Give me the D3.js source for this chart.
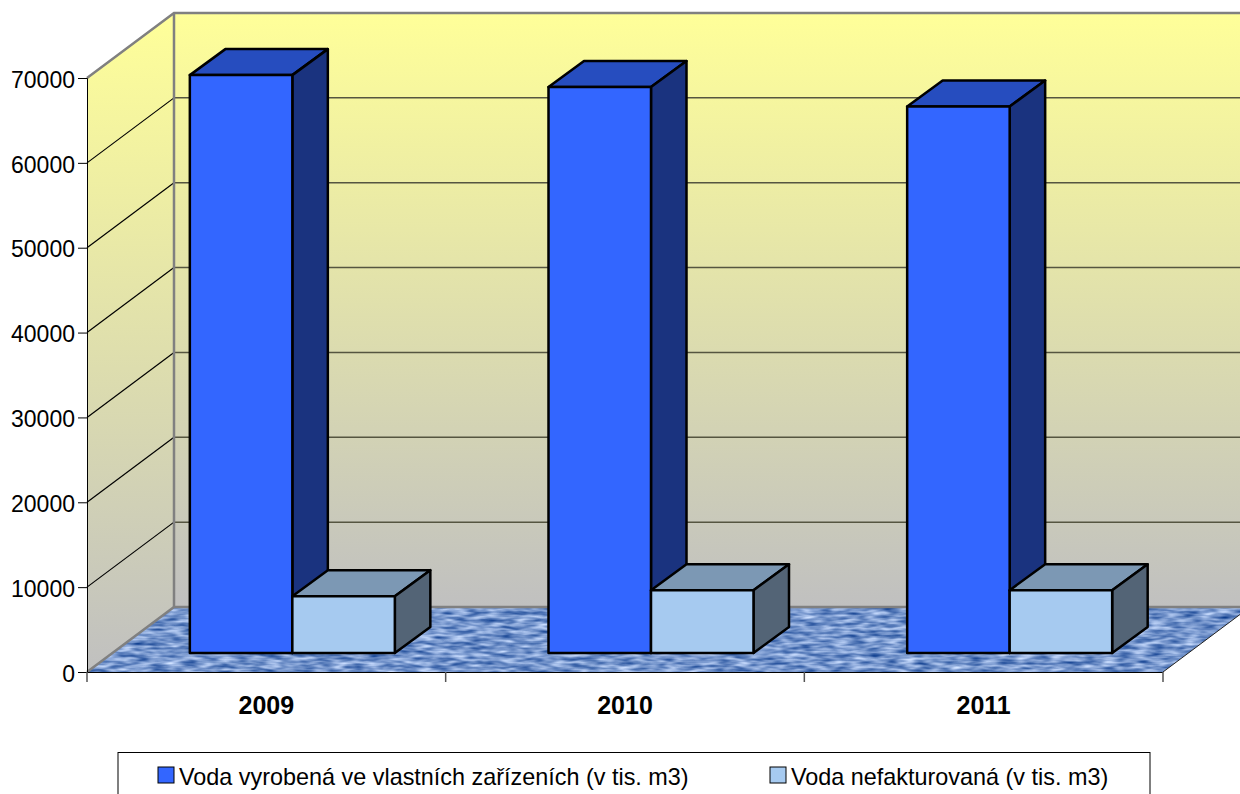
<!DOCTYPE html>
<html>
<head>
<meta charset="utf-8">
<script src="https://cdnjs.cloudflare.com/ajax/libs/d3/7.8.5/d3.min.js"></script>
<style>
html, body { margin: 0; padding: 0; background: #fff; overflow: hidden; }
text { font-family: "Liberation Sans", Arial, sans-serif; fill: #000; }
</style>
</head>
<body>
<svg id="chart" width="1240" height="794"></svg>
<script>
const years = ["2009", "2010", "2011"];
const seriesNames = ["Voda vyrobená ve vlastních zařízeních (v tis. m3)", "Voda nefakturovaná (v tis. m3)"];
const vyrobena = [68100, 66700, 64400];
const nefakturovana = [6700, 7400, 7400];
const yTicks = [0, 10000, 20000, 30000, 40000, 50000, 60000, 70000];

const frontColors = ["#3366ff", "#a6caf0"];
const topColors = ["#264dbf", "#7c98b4"];
const sideColors = ["#1a337f", "#536476"];

const svg = d3.select("#chart");

const x = d3.scaleBand().domain(years).range([87, 1163]);
const y = d3.scaleLinear().domain([0, 70000]).range([672, 78]);

// hloubka grafu (posun zadni steny)
const depthX = 87, depthY = -65;
const barDepthX = 35.5, barDepthY = -26;
const barShiftX = 26, barShiftY = -19;
const barW = 102.5;

const poly = pts => pts.map(p => p.join(",")).join(" ");

const defs = svg.append("defs");
const grad = defs.append("linearGradient").attr("id", "wall")
    .attr("x1", 0).attr("y1", 0).attr("x2", 0).attr("y2", 1);
grad.append("stop").attr("offset", "0%").attr("stop-color", "#ffff99");
grad.append("stop").attr("offset", "100%").attr("stop-color", "#c0c0c0");

const noise = defs.append("filter").attr("id", "water")
    .attr("x", 0).attr("y", 0).attr("width", 1).attr("height", 1)
    .attr("color-interpolation-filters", "sRGB");
noise.append("feTurbulence").attr("type", "fractalNoise")
    .attr("baseFrequency", "0.06 0.26").attr("numOctaves", 2).attr("seed", 7);
noise.append("feColorMatrix").attr("type", "matrix")
    .attr("values", "1.0 0 0 0 -0.04  0.85 0 0 0 0.16  0.6 0 0 0 0.5  0 0 0 0 1");

const x0 = x.range()[0], x1 = x.range()[1];
const yBottom = y(0), yTop = y(70000);

defs.append("clipPath").attr("id", "floorClip").append("polygon")
    .attr("points", poly([[x0, yBottom], [x1, yBottom], [x1 + depthX, yBottom + depthY], [x0 + depthX, yBottom + depthY]]));

// zadni stena a bocni stena
svg.append("polygon")
    .attr("points", poly([[x0 + depthX, yTop + depthY], [x1 + depthX, yTop + depthY], [x1 + depthX, yBottom + depthY], [x0 + depthX, yBottom + depthY]]))
    .attr("fill", "url(#wall)");
svg.append("polygon")
    .attr("points", poly([[x0, yTop], [x0 + depthX, yTop + depthY], [x0 + depthX, yBottom + depthY], [x0, yBottom]]))
    .attr("fill", "url(#wall)");

// podlaha
svg.append("g").attr("clip-path", "url(#floorClip)")
    .append("rect")
    .attr("x", x0).attr("y", yBottom + depthY)
    .attr("width", x1 - x0 + depthX).attr("height", -depthY)
    .attr("filter", "url(#water)");

// mrizka
const grid = svg.append("g");
yTicks.slice(1, -1).forEach(t => {
    grid.append("line")
        .attr("x1", x0).attr("y1", y(t))
        .attr("x2", x0 + depthX).attr("y2", y(t) + depthY)
        .attr("stroke", "#000").attr("stroke-width", 1.2);
    grid.append("line")
        .attr("x1", x0 + depthX).attr("y1", y(t) + depthY)
        .attr("x2", x1 + depthX).attr("y2", y(t) + depthY)
        .attr("stroke", "#555540").attr("stroke-width", 1.5);
});

// okraje sten
svg.append("polyline")
    .attr("points", poly([[x0, yTop], [x0 + depthX, yTop + depthY], [x1 + depthX, yTop + depthY]]))
    .attr("fill", "none").attr("stroke", "#808080").attr("stroke-width", 2.5);
svg.append("line")
    .attr("x1", x0 + depthX).attr("y1", yTop + depthY)
    .attr("x2", x0 + depthX).attr("y2", yBottom + depthY)
    .attr("stroke", "#808080").attr("stroke-width", 2.5);
svg.append("polyline")
    .attr("points", poly([[x0, yBottom], [x0 + depthX, yBottom + depthY], [x1 + depthX, yBottom + depthY]]))
    .attr("fill", "none").attr("stroke", "#808080").attr("stroke-width", 2.5);
svg.append("line")
    .attr("x1", x1).attr("y1", yBottom)
    .attr("x2", x1 + depthX).attr("y2", yBottom + depthY)
    .attr("stroke", "#222").attr("stroke-width", 1);

// sloupce
const gap = (x.bandwidth() - 2 * barW) / 2;
const bars = years.flatMap((yr, i) => [
    { year: yr, s: 0, value: vyrobena[i] },
    { year: yr, s: 1, value: nefakturovana[i] }
]);

const barG = svg.selectAll("g.bar").data(bars).enter().append("g").attr("class", "bar")
    .attr("stroke", "#000").attr("stroke-width", 2.5).attr("stroke-linejoin", "round");

const corners = d => {
    const l = x(d.year) + barShiftX + gap + d.s * barW;
    const r = l + barW;
    const b = y(0) + barShiftY;
    const t = y(d.value) + barShiftY;
    return { l, r, b, t };
};

barG.append("polygon")
    .attr("fill", d => topColors[d.s])
    .attr("points", d => {
        const c = corners(d);
        return poly([[c.l, c.t], [c.r, c.t], [c.r + barDepthX, c.t + barDepthY], [c.l + barDepthX, c.t + barDepthY]]);
    });
barG.append("polygon")
    .attr("fill", d => sideColors[d.s])
    .attr("points", d => {
        const c = corners(d);
        return poly([[c.r, c.t], [c.r + barDepthX, c.t + barDepthY], [c.r + barDepthX, c.b + barDepthY], [c.r, c.b]]);
    });
barG.append("polygon")
    .attr("fill", d => frontColors[d.s])
    .attr("points", d => {
        const c = corners(d);
        return poly([[c.l, c.t], [c.r, c.t], [c.r, c.b], [c.l, c.b]]);
    });

// osy
const yAxis = svg.append("g").attr("transform", `translate(${x0},0)`)
    .call(d3.axisLeft(y).tickValues(yTicks).tickFormat(d3.format("d")).tickSize(9).tickPadding(3));
const xAxis = svg.append("g").attr("transform", `translate(0,${yBottom})`)
    .call(d3.axisBottom(x).tickSize(0).tickPadding(24));

yAxis.selectAll("text").attr("font-size", 23).attr("dy", "0.4em").style("font-family", '"Liberation Sans"');
yAxis.selectAll("line, path").attr("stroke", "#000");
xAxis.select("path").attr("stroke", "#000").attr("d", `M${x0},0.5H${x1}`);
xAxis.selectAll("text").attr("font-size", 25).attr("font-weight", "bold").style("font-family", '"Liberation Sans"');

svg.append("g").selectAll("line")
    .data([...years.map(d => x(d)), x1])
    .enter().append("line")
    .attr("x1", d => d).attr("x2", d => d)
    .attr("y1", yBottom).attr("y2", yBottom + 10)
    .attr("stroke", "#555").attr("stroke-width", 1.5);

// legenda
const legend = svg.append("g");
legend.append("rect")
    .attr("x", 118).attr("y", 752.5).attr("width", 1032).attr("height", 60)
    .attr("fill", "#fff").attr("stroke", "#000").attr("stroke-width", 1);

const legendX = [158, 770];
seriesNames.forEach((name, i) => {
    legend.append("rect")
        .attr("x", legendX[i]).attr("y", 767).attr("width", 16).attr("height", 16)
        .attr("fill", frontColors[i]).attr("stroke", "#000").attr("stroke-width", 1);
    legend.append("text")
        .attr("x", legendX[i] + 21).attr("y", 785)
        .attr("font-size", 23.4)
        .text(name);
});
</script>
</body>
</html>
